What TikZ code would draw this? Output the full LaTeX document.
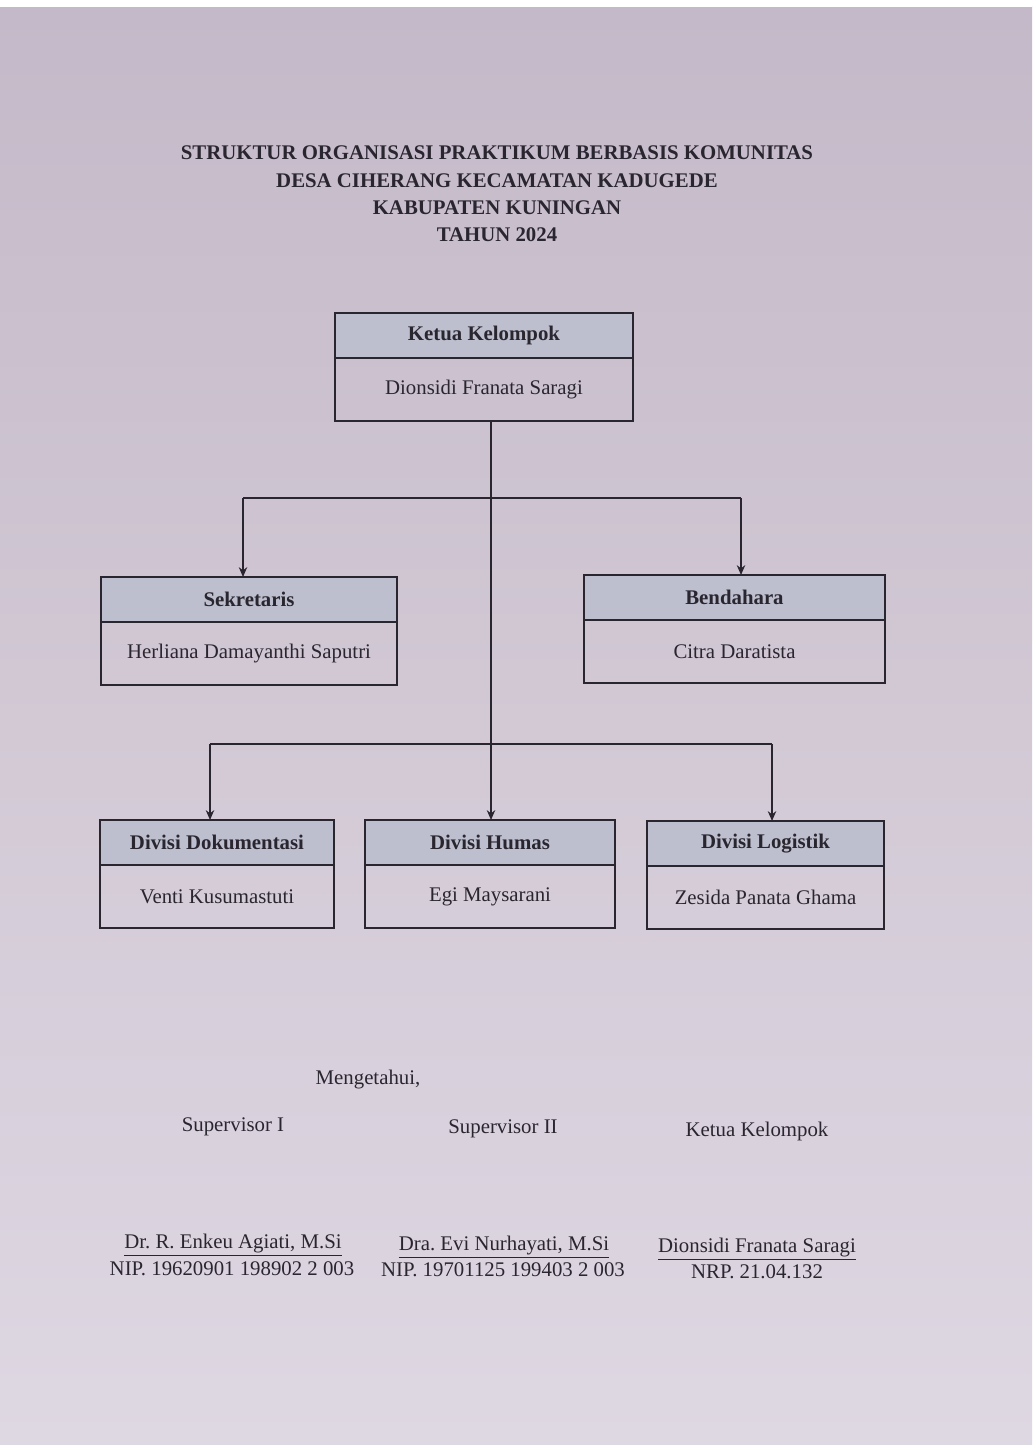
\documentclass[tikz,border=0pt]{standalone}
\usepackage{fontspec}
\setmainfont{Liberation Serif}
\usepackage{xcolor}
\usetikzlibrary{arrows.meta,positioning}
\frenchspacing
\definecolor{paper}{RGB}{210,201,213}
\definecolor{paperlow}{RGB}{222,216,227}
\definecolor{paperhigh}{RGB}{196,185,200}
\definecolor{hdrfill}{RGB}{189,191,207}
\definecolor{ink}{RGB}{42,38,48}
\newcommand{\txt}{\fontsize{14.8}{19.5}\selectfont}
\tikzstyle{head} = [rectangle, draw=ink, fill=hdrfill, line width=1pt, minimum height=1.125cm, text=ink, font=\txt\bfseries, outer sep=0pt]
\tikzstyle{body} = [rectangle, draw=ink, line width=1pt, minimum height=1.575cm, text=ink, font=\txt, outer sep=0pt]
\tikzstyle{line} = [line width=1pt, draw=ink, ->, >= {Stealth[length=7pt, width=6pt]}]
\tikzstyle{sig} = [text=ink, font=\txt, inner sep=0pt]

\begin{document}
\begin{tikzpicture}[x=0.025cm, y=-0.025cm]
        \useasboundingbox (0,0) rectangle (1032,1445);
        \shade[top color=paperhigh, bottom color=paperlow, middle color=paper] (0,7) rectangle (1032,1445);
        \fill[white] (0,0) rectangle (1032,7);

        \node (T) [text=ink, font=\txt\bfseries, align=center, inner sep=0pt] at (497,194)
            {STRUKTUR ORGANISASI PRAKTIKUM BERBASIS KOMUNITAS\\
             DESA CIHERANG KECAMATAN KADUGEDE\\
             KABUPATEN KUNINGAN\\
             TAHUN 2024};

        \node (KH) [head, minimum width=7.45cm] at (484,335.5) {Ketua Kelompok};
        \node (KB) [body, minimum width=7.45cm, below=0pt of KH] {Dionsidi Franata Saragi};

        \node (SH) [head, minimum width=7.4cm] at (249,599.5) {Sekretaris};
        \node (SB) [body, minimum width=7.4cm, below=0pt of SH] {Herliana Damayanthi Saputri};
        \node (BH) [head, minimum width=7.525cm] at (734.5,597.5) {Bendahara};
        \node (BB) [body, minimum width=7.525cm, below=0pt of BH] {Citra Daratista};

        \node (DH) [head, minimum width=5.85cm] at (217,842.5) {Divisi Dokumentasi};
        \node (DB) [body, minimum width=5.85cm, below=0pt of DH] {Venti Kusumastuti};
        \node (HH) [head, minimum width=6.25cm] at (490,842.5) {Divisi Humas};
        \node (HB) [body, minimum width=6.25cm, below=0pt of HH] {Egi Maysarani};
        \node (LH) [head, minimum width=5.925cm] at (765.5,843.5) {Divisi Logistik};
        \node (LB) [body, minimum width=5.925cm, below=0pt of LH] {Zesida Panata Ghama};

        \coordinate (A1) at (243,498);
        \coordinate (A2) at (741,498);
        \coordinate (C1) at (210,744);
        \coordinate (C2) at (772,744);
        \coordinate (C0) at (491,744);

        \draw[line] (KB.south -| C0) -- (HH.north -| C0);
        \draw[line, -] (A1) -- (A2);
        \draw[line] (A1) -- (SH.north -| A1);
        \draw[line] (A2) -- (BH.north -| A2);
        \draw[line, -] (C1) -- (C2);
        \draw[line] (C1) -- (DH.north -| C1);
        \draw[line] (C2) -- (LH.north -| C2);

        \node (M) [sig] at (368,1080) {Mengetahui,};
        \node (S1) [sig] at (233,1127) {Supervisor I};
        \node (S2) [sig] at (503,1129) {Supervisor II};
        \node (S3) [sig] at (757,1131) {Ketua Kelompok};
        \node (N1) [sig] at (233,1245) {\underline{Dr. R. Enkeu Agiati, M.Si}};
        \node (P1) [sig] at (232,1269) {NIP. 19620901 198902 2 003};
        \node (N2) [sig] at (504,1247) {\underline{Dra. Evi Nurhayati, M.Si}};
        \node (P2) [sig] at (503,1270) {NIP. 19701125 199403 2 003};
        \node (N3) [sig] at (757,1249) {\underline{Dionsidi Franata Saragi}};
        \node (P3) [sig] at (757,1272) {NRP. 21.04.132};
    \end{tikzpicture}
\end{document}
